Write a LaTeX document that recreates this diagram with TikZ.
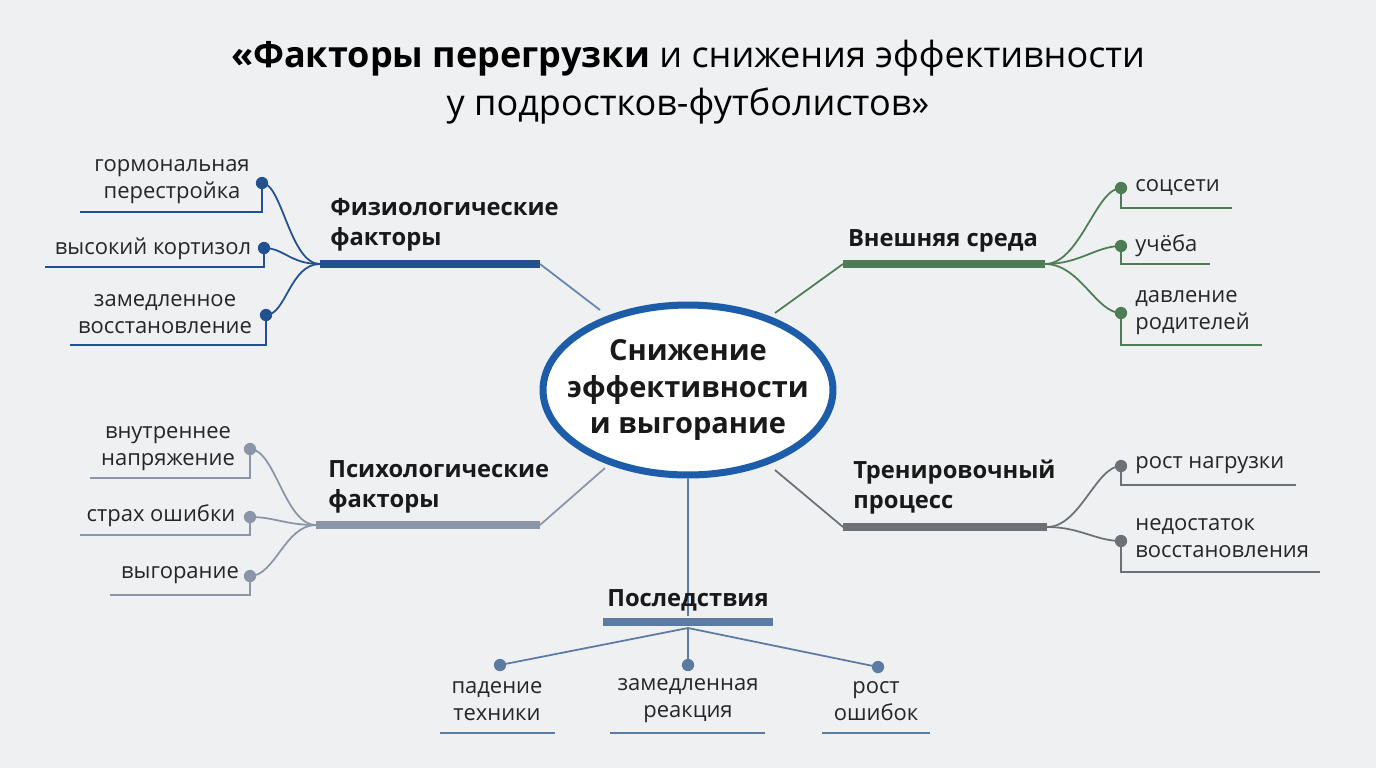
\documentclass[tikz,border=0pt]{standalone}
\usepackage{fontspec}
\setmainfont{Open Sans}
\usetikzlibrary{calc,shapes.geometric}
\definecolor{bg}{HTML}{EEF0F1}
\definecolor{phys}{HTML}{23508F}
\definecolor{ext}{HTML}{4E7D55}
\definecolor{psy}{HTML}{8A96A8}
\definecolor{trn}{HTML}{6C7178}
\definecolor{cons}{HTML}{5B7BA2}
\definecolor{core}{HTML}{1D5CA8}
\begin{document}
\begin{tikzpicture}[x=0.02cm, y=-0.02cm,
  label/.style={font=\fontsize{12.5}{15.5}\selectfont, text=black!85, align=center, inner sep=0pt},
  header/.style={font=\fontsize{13.5}{17.5}\selectfont\bfseries, text=black!90, align=left, inner sep=0pt},
  bar/.style={line width=4.5pt},
  link/.style={line width=1pt},
  dot/.style={circle, fill, inner sep=0pt, minimum size=7pt}
]
\fill[bg] (0,0) rectangle (1376,768);

% title
\node[font=\fontsize{20.5}{27}\selectfont, align=center] (title) at (688,82)
  {\textbf{«Факторы перегрузки} и снижения эффективности\\у подростков-футболистов»};

% centre
\node[ellipse, draw=core, line width=4pt, fill=white, minimum width=5.8cm, minimum height=3.4cm] (core) at (688,390) {};
\node[header, align=center, font=\fontsize{16.5}{21}\selectfont\bfseries] (coretext) at (core) {Снижение\\эффективности\\и выгорание};

% physiological
\coordinate (pA) at (320,264); \coordinate (pB) at (540,264);
\draw[phys, bar] (pA) -- (pB);
\node[header, anchor=south west] (ph) at (330,252) {Физиологические\\факторы};
\draw[phys!70, link] (pB) -- (600,310);
\coordinate (p1) at (262,183); \coordinate (p2) at (264,248); \coordinate (p3) at (266,315);
\foreach \d/\y/\x in {p1/212/80, p2/267/45, p3/345/70} {
  \draw[phys, link] (pA) .. controls (290,264) and ($(\d)+(20,0)$) .. (\d);
  \draw[phys, link] (\d) |- (\x,\y);
  \node[dot, fill=phys] at (\d) {};
}
\node[label] (p1t) at (172,182) {гормональная\\перестройка};
\node[label] (p2t) at (153,249) {высокий кортизол};
\node[label] (p3t) at (165,314) {замедленное\\восстановление};

% external
\coordinate (eA) at (843,264); \coordinate (eB) at (1045,264);
\draw[ext, bar] (eA) -- (eB);
\node[header] (eh) at (943,241) {Внешняя среда};
\draw[ext, link] (eA) -- (775,313);
\coordinate (e1) at (1121,188); \coordinate (e2) at (1121,246); \coordinate (e3) at (1121,313);
\foreach \d/\y/\x in {e1/208/1232, e2/264/1210, e3/345/1262} {
  \draw[ext, link] (eB) .. controls (1080,264) and ($(\d)+(-25,0)$) .. (\d);
  \draw[ext, link] (\d) |- (\x,\y);
  \node[dot, fill=ext] at (\d) {};
}
\node[label, anchor=west] (e1t) at (1135,188) {соцсети};
\node[label, anchor=west] (e2t) at (1135,246) {учёба};
\node[label, anchor=west, align=left] (e3t) at (1135,313) {давление\\родителей};

% psychological
\coordinate (sA) at (316,525); \coordinate (sB) at (540,525);
\draw[psy, bar] (sA) -- (sB);
\node[header, anchor=south west] (sh) at (328,514) {Психологические\\факторы};
\draw[psy, link] (sB) -- (605,468);
\coordinate (s1) at (250,449); \coordinate (s2) at (250,517); \coordinate (s3) at (250,576);
\foreach \d/\y/\x in {s1/478/90, s2/535/80, s3/595/110} {
  \draw[psy, link] (sA) .. controls (285,525) and ($(\d)+(25,0)$) .. (\d);
  \draw[psy, link] (\d) |- (\x,\y);
  \node[dot, fill=psy] at (\d) {};
}
\node[label] (s1t) at (168,449) {внутреннее\\напряжение};
\node[label] (s2t) at (161,516) {страх ошибки};
\node[label] (s3t) at (180,575) {выгорание};

% training
\coordinate (tA) at (843,527); \coordinate (tB) at (1047,527);
\draw[trn, bar] (tA) -- (tB);
\node[header, anchor=south west] (th) at (853,515) {Тренировочный\\процесс};
\draw[trn, link] (tA) -- (775,470);
\coordinate (t1) at (1121,466); \coordinate (t2) at (1121,541);
\foreach \d/\y/\x in {t1/485/1296, t2/572/1320} {
  \draw[trn, link] (tB) .. controls (1080,527) and ($(\d)+(-25,0)$) .. (\d);
  \draw[trn, link] (\d) |- (\x,\y);
  \node[dot, fill=trn] at (\d) {};
}
\node[label, anchor=west] (t1t) at (1135,465) {рост нагрузки};
\node[label, anchor=west, align=left] (t2t) at (1135,538) {недостаток\\восстановления};

% consequences
\coordinate (cA) at (603,622); \coordinate (cB) at (773,622); \coordinate (cM) at (688,628);
\draw[cons, link] (core.south) -- (688,616);
\draw[cons, bar] (cA) -- (cB);
\node[header] (ch) at (688,600) {Последствия};
\coordinate (c1) at (500,665); \coordinate (c2) at (688,665); \coordinate (c3) at (878,667);
\foreach \d/\a/\b in {c1/440/555, c2/610/765, c3/822/930} {
  \draw[cons, link] (cM) -- (\d);
  \node[dot, fill=cons] at (\d) {};
  \draw[cons, link] (\a,733) -- (\b,733);
}
\node[label] (c1t) at (497,701) {падение\\техники};
\node[label] (c2t) at (688,701) {замедленная\\реакция};
\node[label] (c3t) at (876,701) {рост\\ошибок};
\end{tikzpicture}
\end{document}
